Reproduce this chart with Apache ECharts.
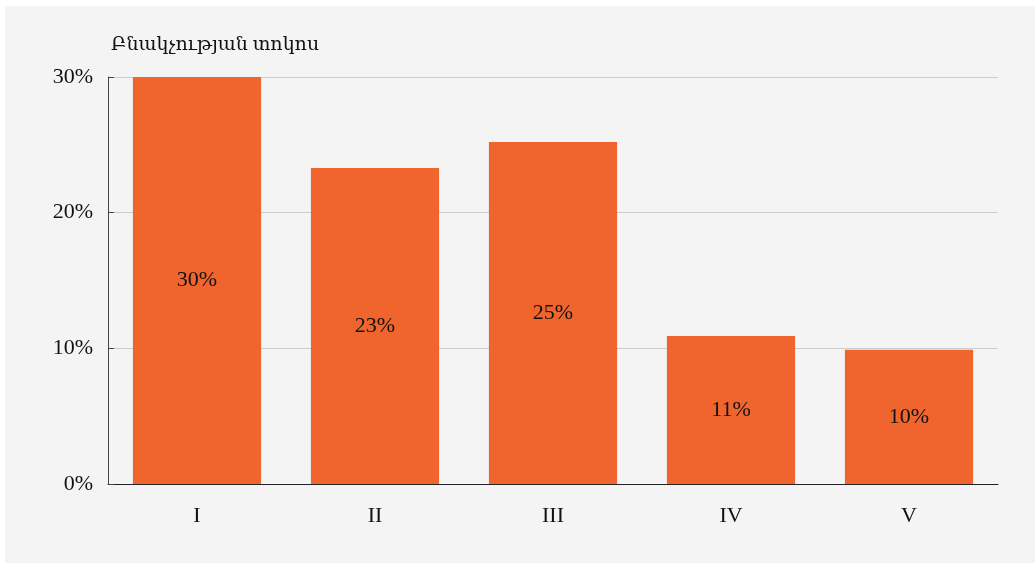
<!DOCTYPE html>
<html>
<head>
<meta charset="utf-8">
<script src="https://cdn.jsdelivr.net/npm/echarts@6/dist/echarts.min.js"></script>
<style>
html,body{margin:0;padding:0;background:#ffffff;}
#bg{position:absolute;left:5px;top:6px;width:1030px;height:557px;background:#f4f4f4;}
#chart{position:absolute;left:0;top:0;width:1035px;height:563px;}
</style>
</head>
<body>
<div id="bg"></div>
<div id="chart"></div>
<script>
const categories = ['I', 'II', 'III', 'IV', 'V'];
const values = [30.2, 23.3, 25.2, 10.9, 9.9];
const titleText = 'Բնակչության տոկոս';

const FONT = '"Liberation Serif", "DejaVu Serif", serif';
const chart = echarts.init(document.getElementById('chart'));
chart.setOption({
  backgroundColor: 'transparent',
  animation: false,
  title: {
    text: titleText,
    left: 106,
    top: 31,
    textStyle: { fontFamily: FONT, fontSize: 19, fontWeight: 'normal', color: '#111' }
  },
  grid: { left: 108, right: 37, top: 77, bottom: 79, containLabel: false },
  xAxis: {
    type: 'category',
    data: categories,
    axisLine: { lineStyle: { color: '#222', width: 1 } },
    axisTick: { inside: true, alignWithLabel: false, length: 6, lineStyle: { color: '#222' } },
    axisLabel: { fontFamily: FONT, fontSize: 22, color: '#111', margin: 21 }
  },
  yAxis: {
    type: 'value',
    min: 0, max: 30, interval: 10,
    axisLine: { show: true, lineStyle: { color: '#444', width: 1 } },
    axisTick: { show: true, inside: true, length: 6, lineStyle: { color: '#444' } },
    axisLabel: { fontFamily: FONT, fontSize: 22, color: '#111', margin: 15, padding: [6, 0, 0, 0], formatter: v => v + '%' },
    splitLine: { lineStyle: { color: '#cccccc', width: 1 } }
  },
  series: [{
    type: 'bar',
    data: values,
    barWidth: '72%',
    itemStyle: { color: '#f0652e' },
    label: {
      show: true,
      position: 'inside',
      fontFamily: FONT, fontSize: 22, color: '#111',
      formatter: p => Math.round(p.value) + '%'
    }
  }]
});
</script>
</body>
</html>
